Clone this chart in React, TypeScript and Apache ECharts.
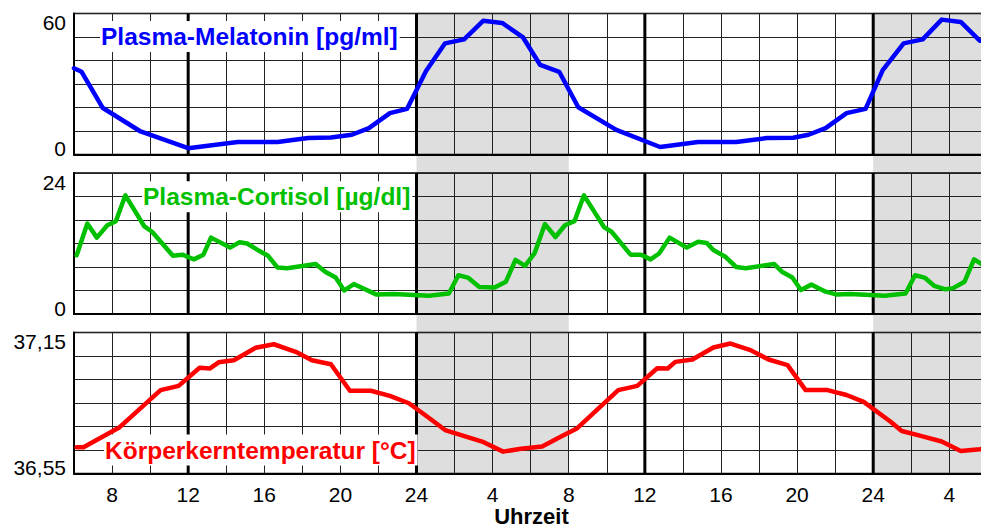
import React, { useEffect, useRef } from "react";
import * as echarts from "echarts";

// ---- Data (hour of recording, value) ----
const melatonin: [number, number][] = [
  [6.0, 36.7], [6.4, 35.2], [7.5, 19.9], [9.5, 9.8], [12.0, 2.7], [14.6, 5.3],
  [16.7, 5.3], [18.3, 7.0], [19.5, 7.2], [20.6, 8.4], [21.5, 11.2], [22.6, 17.6],
  [23.5, 19.4], [24.5, 35.5], [25.5, 47.3], [26.5, 49.0], [27.5, 56.9], [28.5, 56.0],
  [29.6, 49.8], [30.5, 38.1], [31.5, 35.2], [32.5, 20.1], [34.5, 10.5], [36.8, 3.2],
  [38.8, 5.3], [40.8, 5.3], [42.4, 7.0], [43.8, 7.1], [44.6, 8.4], [45.5, 11.2],
  [46.6, 17.6], [47.6, 19.4], [48.5, 35.9], [49.6, 47.3], [50.6, 49.0], [51.6, 57.4],
  [52.6, 56.4], [53.6, 48.4],
];

const cortisol: [number, number][] = [
  [6.14, 10.0], [6.7, 15.4], [7.2, 13.0], [7.75, 15.1], [8.2, 15.8], [8.7, 20.2],
  [9.7, 14.9], [10.1, 14.0], [11.2, 9.9], [11.7, 10.1], [12.3, 9.3], [12.8, 10.1],
  [13.2, 13.0], [14.2, 11.3], [14.7, 12.2], [15.1, 12.0], [15.7, 10.8], [16.2, 9.9],
  [16.7, 7.9], [17.2, 7.8], [18.7, 8.5], [19.2, 7.2], [19.75, 6.2], [20.2, 4.0],
  [20.7, 5.1], [21.9, 3.3], [22.8, 3.4], [24.65, 3.1], [25.7, 3.5], [26.2, 6.6],
  [26.7, 6.2], [27.3, 4.6], [28.1, 4.5], [28.7, 5.5], [29.2, 9.2], [29.7, 8.2],
  [30.2, 10.3], [30.75, 15.3], [31.3, 13.1], [31.8, 15.1], [32.3, 15.8], [32.8, 20.2],
  [33.85, 14.8], [34.25, 14.0], [35.25, 10.1], [35.8, 10.1], [36.3, 9.3], [36.75, 10.3],
  [37.3, 13.0], [38.2, 11.3], [38.8, 12.3], [39.25, 12.1], [39.6, 10.9], [40.25, 9.7],
  [40.8, 8.0], [41.3, 7.8], [42.8, 8.5], [43.2, 7.2], [43.75, 6.2], [44.2, 4.1],
  [44.75, 5.0], [45.5, 3.8], [46.1, 3.3], [46.8, 3.4], [48.6, 3.1], [49.7, 3.5],
  [50.2, 6.6], [50.7, 6.2], [51.2, 4.8], [51.8, 4.2], [52.2, 4.4], [52.8, 5.5],
  [53.3, 9.3], [53.7, 8.5],
];

const temperature: [number, number][] = [
  [6.14, 36.662], [6.5, 36.662], [8.4, 36.747], [10.55, 36.905], [11.5, 36.923],
  [12.6, 37.0], [13.15, 36.997], [13.6, 37.023], [14.4, 37.032], [15.55, 37.085],
  [16.5, 37.1], [17.65, 37.068], [18.5, 37.032], [19.5, 37.015], [20.5, 36.902],
  [21.6, 36.902], [22.6, 36.88], [23.6, 36.849], [24.75, 36.781], [25.5, 36.735],
  [26.6, 36.707], [27.45, 36.686], [28.55, 36.643], [29.5, 36.655], [30.6, 36.665],
  [31.6, 36.707], [32.45, 36.743], [34.6, 36.905], [35.6, 36.923], [36.65, 36.998],
  [37.2, 36.997], [37.6, 37.025], [38.5, 37.035], [39.6, 37.086], [40.5, 37.103],
  [41.55, 37.075], [42.5, 37.035], [43.5, 37.011], [44.45, 36.905], [45.6, 36.905],
  [46.6, 36.884], [47.5, 36.855], [48.9, 36.771], [49.5, 36.731], [50.5, 36.71],
  [51.6, 36.686], [52.6, 36.646], [53.6, 36.653], [54.2, 36.66],
];

const nightBands: [number, number][] = [[24, 32], [48, 56]];
const dayBoundaries: number[][] = [[12], [24], [36], [48]];

const hourMin = 6;
const hourMax = 53.77;
const hourStep = 2;

const melRange = { min: 0, max: 60, step: 10, minLabel: "0", maxLabel: "60" };
const corRange = { min: 0, max: 24, step: 4, minLabel: "0", maxLabel: "24" };
const tempRange = { min: 36.55, max: 37.15, step: 0.1, minLabel: "36,55", maxLabel: "37,15" };

const titles = ["Plasma-Melatonin [pg/ml]", "Plasma-Cortisol [µg/dl]", "Körperkerntemperatur [°C]"];
const colors = ["#0000ff", "#00c000", "#ff0000"];

const FONT = '"Liberation Sans", Arial, Helvetica, sans-serif';

export default function App() {
  const ref = useRef<HTMLDivElement>(null);

  useEffect(() => {
    if (!ref.current) return;
    const chart = echarts.init(ref.current, undefined, { renderer: "svg" });

    const gridTops = [13.5, 173, 332.5];
    const gridH = 141;
    const gridLeft = 74;
    const gridW = 909;
    const ranges = [melRange, corRange, tempRange];
    const datas = [melatonin, cortisol, temperature];

    const grids: any[] = gridTops.map((t) => ({
      left: gridLeft,
      width: gridW,
      top: t,
      height: gridH,
      show: true,
      borderColor: "#000",
      borderWidth: 1.5,
      backgroundColor: "transparent",
      containLabel: false,
      outerBoundsMode: "none",
    }));
    grids.push({
      left: gridLeft,
      width: gridW,
      top: 12.5,
      height: 461.5,
      show: false,
      containLabel: false,
      outerBoundsMode: "none",
    });

    const xAxes: any[] = [0, 1, 2].map((i) => ({
      type: "value",
      gridIndex: i,
      min: hourMin,
      max: hourMax,
      interval: hourStep,
      axisLine: { show: true, onZero: false, lineStyle: { color: "#000", width: 2 } },
      axisTick: { show: false },
      splitLine: { show: true, lineStyle: { color: "#222", width: 1 } },
      axisLabel:
        i === 2
          ? {
              show: true,
              margin: 10,
              fontSize: 21,
              fontFamily: FONT,
              color: "#000",
              formatter: (v: number) => {
                const r = Math.round(v);
                if (Math.abs(v - r) > 1e-6 || r % 4 !== 0) return "";
                const h = r % 24;
                return String(h === 0 ? 24 : h);
              },
            }
          : { show: false },
      name: i === 2 ? "Uhrzeit" : "",
      nameLocation: "middle",
      nameGap: 31,
      nameTextStyle: {
        fontSize: 22,
        lineHeight: 22,
        fontWeight: "bold",
        fontFamily: FONT,
        color: "#000",
        padding: [0, 0, 0, 6],
      },
    }));
    xAxes.push({ type: "value", gridIndex: 3, min: hourMin, max: hourMax, show: false });

    const yAxes: any[] = ranges.map((r, i) => ({
      type: "value",
      gridIndex: i,
      min: r.min,
      max: r.max,
      interval: r.step,
      axisLine: { show: true, onZero: false, lineStyle: { color: "#000", width: 2 } },
      axisTick: { show: false },
      splitLine: { show: true, lineStyle: { color: "#222", width: 1 } },
      axisLabel: {
        show: true,
        margin: 8,
        fontSize: 21,
        fontFamily: FONT,
        color: "#000",
        formatter: (v: number) => {
          if (Math.abs(v - r.max) < 1e-6) return "{t|" + r.maxLabel + "}";
          if (Math.abs(v - r.min) < 1e-6) return "{b|" + r.minLabel + "}";
          return "";
        },
        rich: {
          t: { fontSize: 21, fontFamily: FONT, color: "#000", padding: [18, 0, 0, 0] },
          b: { fontSize: 21, fontFamily: FONT, color: "#000", padding: [0, 0, 12, 0] },
        },
      },
    }));
    yAxes.push({ type: "value", gridIndex: 3, min: 0, max: 1, show: false });

    const series: any[] = [];
    series.push({
      type: "custom",
      xAxisIndex: 3,
      yAxisIndex: 3,
      z: -1,
      silent: true,
      data: nightBands,
      encode: { x: [0, 1] },
      renderItem: (params: any, api: any) => {
        const s = api.coord([api.value(0), 0]);
        const e = api.coord([api.value(1), 0]);
        const cs = params.coordSys;
        return {
          type: "rect",
          shape: { x: s[0], y: cs.y, width: e[0] - s[0], height: cs.height },
          style: { fill: "#dedede" },
        };
      },
    });

    ranges.forEach((r, i) => {
      series.push({
        type: "custom",
        xAxisIndex: i,
        yAxisIndex: i,
        z: 1,
        silent: true,
        data: dayBoundaries,
        encode: { x: 0 },
        renderItem: (params: any, api: any) => {
          const p = api.coord([api.value(0), r.min]);
          const cs = params.coordSys;
          return {
            type: "line",
            shape: { x1: p[0], y1: cs.y, x2: p[0], y2: cs.y + cs.height },
            style: { stroke: "#000", lineWidth: 3 },
          };
        },
      });
      series.push({
        type: "line",
        xAxisIndex: i,
        yAxisIndex: i,
        data: datas[i],
        showSymbol: false,
        symbol: "none",
        silent: true,
        z: 3,
        lineStyle: { color: colors[i], width: 4.5, join: "round", cap: "round" },
        itemStyle: { color: colors[i] },
      });
    });

    const titlePos = [
      { x: 100, y: 36.5 },
      { x: 142, y: 196.8 },
      { x: 104, y: 450 },
    ];

    const graphic = titles.map((t, i) => ({
      type: "text",
      x: titlePos[i].x,
      y: titlePos[i].y,
      z: 2,
      silent: true,
      style: {
        text: t,
        font: `bold 24.5px ${FONT}`,
        fill: colors[i],
        backgroundColor: "#fff",
        padding: [3, 2, 3, 1],
        align: "left",
        verticalAlign: "middle",
      },
    }));

    chart.setOption({
      animation: false,
      backgroundColor: "#fff",
      grid: grids,
      xAxis: xAxes,
      yAxis: yAxes,
      series,
      graphic,
    });

    return () => chart.dispose();
  }, []);

  return (
    <div
      ref={ref}
      style={{ position: "fixed", left: 0, top: 0, width: 981, height: 528 }}
    />
  );
}
